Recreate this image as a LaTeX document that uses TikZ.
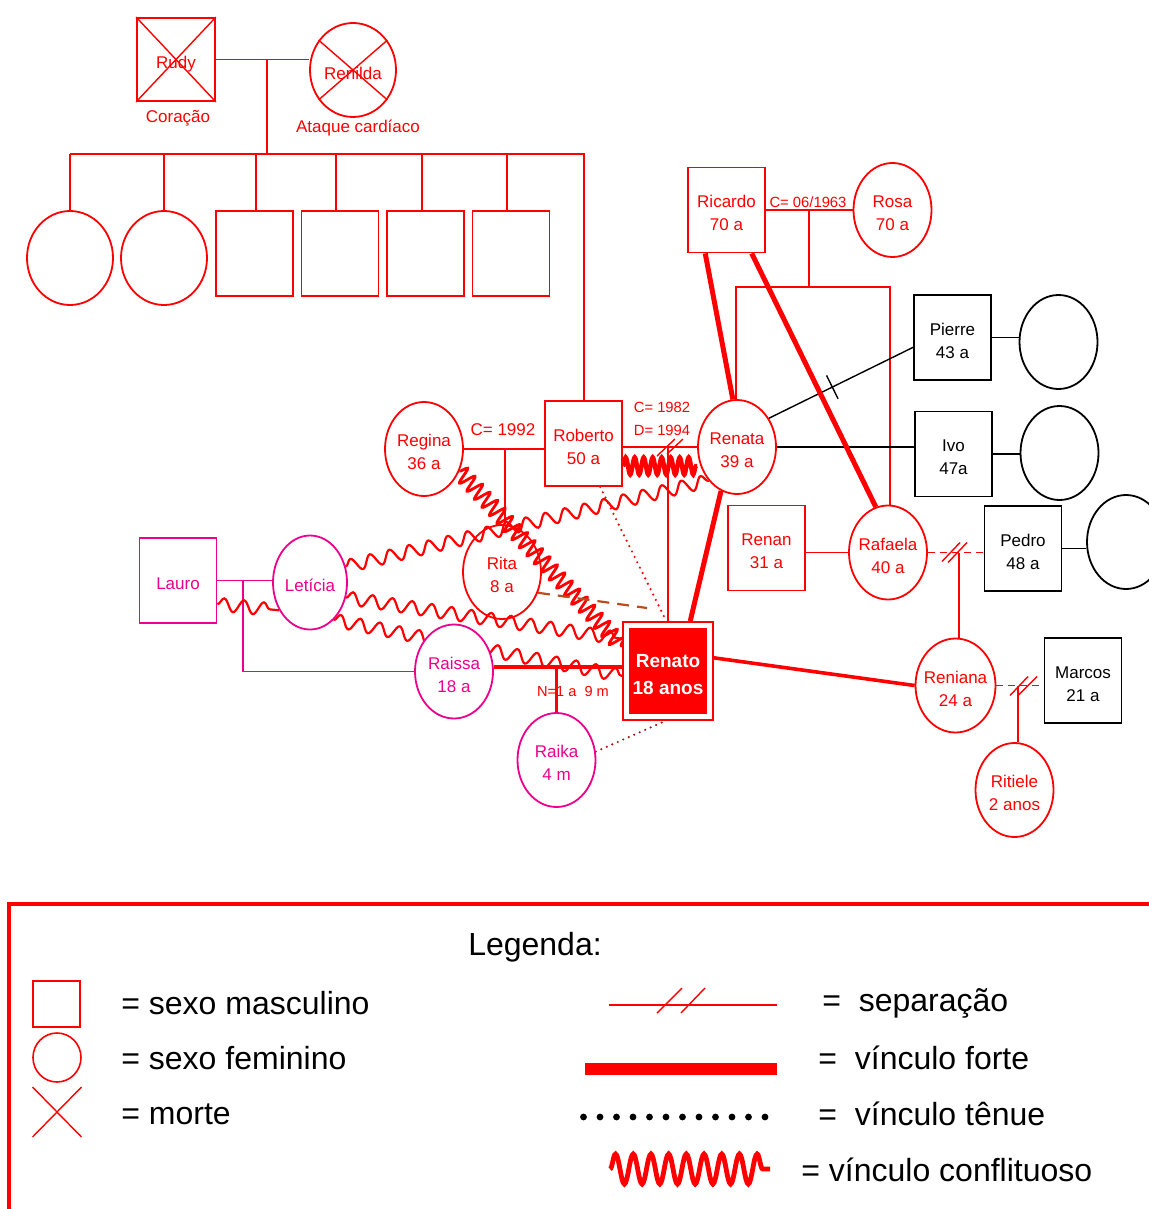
\documentclass[tikz,border=0pt]{standalone}
\usepackage{fontspec}
\setmainfont{Liberation Sans}
\usetikzlibrary{shapes.geometric,decorations.pathmorphing,decorations.markings,calc,backgrounds}
\definecolor{brownish}{RGB}{190,75,30}
\definecolor{dotdark}{RGB}{175,20,20}
\tikzset{
  base/.style={inner sep=0pt, align=center, font=\fontsize{8.5}{11.5}\selectfont, line width=0.9pt, text height=20.7pt, text depth=0pt},
  one/.style={text height=9.2pt, text depth=0pt},
  msq/.style={base, rectangle, draw=red, text=red, minimum width=38.5pt, minimum height=42.5pt, fill=white},
  fel/.style={base, ellipse, draw=red, text=red, inner xsep=-6pt, minimum width=39pt, minimum height=47pt, fill=white},
  bsq/.style={msq, draw=black, text=black},
  bel/.style={fel, draw=black},
  psq/.style={msq, draw=magenta, text=magenta},
  pel/.style={fel, draw=magenta, text=magenta},
  txt/.style={inner sep=0pt, text=red, font=\fontsize{8.5}{10}\selectfont},
  stxt/.style={inner sep=0pt, text=red, font=\fontsize{7.4}{9}\selectfont},
  lgd/.style={inner sep=0pt, text=black, font=\fontsize{16}{19}\selectfont},
  rline/.style={draw=red, line width=0.9pt},
  bline/.style={draw=black, line width=0.7pt},
  pline/.style={draw=magenta, line width=0.8pt},
  sepdash/.style={rline, dash pattern=on 3.5pt off 2.5pt},
  strong/.style={draw=red, line width=2.5pt},
  conflict/.style={draw=red, line width=1.1pt, decorate, decoration={snake, amplitude=3.2pt, segment length=10pt}},
  heavyconflict/.style={draw=red, line width=1.4pt, decorate, decoration={snake, amplitude=4pt, segment length=5.5pt}},
  rrconflict/.style={draw=red, line width=2.2pt, decorate, decoration={snake, amplitude=4.3pt, segment length=4.5pt}},
  dotline/.style={line width=1.2pt, line cap=round, dash pattern=on 0pt off 3pt},
  slash/.style={draw=red, line width=0.7pt}
}
\begin{document}
\begin{tikzpicture}[x=0.5pt,y=-0.5pt]
\useasboundingbox (0,0) rectangle (1148,1209);

% ---------- grandparents ----------
\node[msq, one, minimum width=39pt, minimum height=41.5pt] (rudy) at (176,59.5) {Rudy};
\node[fel, one, minimum width=43pt] (renilda) at (353,70) {Renilda};
\draw[red, line width=0.7pt] (rudy.north west) -- (rudy.south east) (rudy.north east) -- (rudy.south west);
\draw[red, line width=0.7pt] (renilda.139) -- (renilda.-41) (renilda.41) -- (renilda.-139);
\node[txt] (coracao) at (178,118) {Coração};
\node[txt] (ataque) at (358,128) {Ataque cardíaco};

% ---------- children of Rudy ----------
\node[fel, minimum width=43pt] (k1) at (70,258) {};
\node[fel, minimum width=43pt] (k2) at (164,258) {};
\node[msq] (k3) at (254.5,253.5) {};
\node[msq] (k4) at (340,253.5) {};
\node[msq] (k5) at (425.5,253.5) {};
\node[msq] (k6) at (511,253.5) {};

% ---------- family ----------
\node[msq] (roberto) at (583.5,443.5) {Roberto\\50 a};
\node[fel] (regina) at (424,449) {Regina\\36 a};
\node[fel, fill=none] (rita) at (502,572) {Rita\\8 a};
\node[fel] (renata) at (737,447) {Renata\\39 a};
\node[msq] (ricardo) at (726.5,210) {Ricardo\\70 a};
\node[fel] (rosa) at (892.5,210) {Rosa\\70 a};
\node[bsq] (pierre) at (952.5,337.5) {Pierre\\43 a};
\node[bel] (pierrew) at (1058.5,342) {};
\node[bsq] (ivo) at (953.5,454) {Ivo\\47a};
\node[bel] (ivow) at (1059.5,453) {};
\node[msq] (renan) at (766.5,548) {Renan\\31 a};
\node[fel] (rafaela) at (888,552.5) {Rafaela\\40 a};
\node[bsq] (pedro) at (1023,548.5) {Pedro\\48 a};
\node[bel] (pedrow) at (1126,542) {};
\node[fel, minimum width=40pt] (reniana) at (955.5,685.5) {Reniana\\24 a};
\node[bsq] (marcos) at (1083,680.5) {Marcos\\21 a};
\node[fel] (ritiele) at (1014.5,790) {Ritiele\\2 anos};
\node[psq, one] (lauro) at (178,580.5) {Lauro};
\node[pel, one, minimum width=37pt] (leticia) at (310,582.5) {Letícia};
\node[pel] (raissa) at (454,671.5) {Raissa\\18 a};
\node[pel] (raika) at (556.5,760) {Raika\\4 m};
\node[draw=red, line width=0.9pt, minimum width=45pt, minimum height=49pt, fill=white, inner sep=0pt] (renato) at (668,671) {};
\node[fill=red, minimum width=39pt, minimum height=43pt, inner sep=0pt, text=white, align=center,
      text height=23.3pt, text depth=0pt,
      font=\bfseries\fontsize{9.5}{13.5}\selectfont] (renatoin) at (668,671) {Renato\\18 anos};

% ---------- labels ----------
\node[txt] (c1992) at (503,430) {C= 1992};
\node[stxt] (c1982) at (662,407) {C= 1982};
\node[stxt] (d1994) at (662,430) {D= 1994};
\node[stxt] (c1963) at (808,202) {C= 06/1963};
\node[stxt, font=\fontsize{7.3}{9}\selectfont] (nasc) at (573,691) {N=1 a\ \ 9 m};

% ---------- coordinates ----------
\coordinate (gp) at (267,59);
\coordinate (barL) at (70,154);
\coordinate (barR) at (584,154);
\coordinate (bk1) at (70,154);
\coordinate (bk2) at (164,154);
\coordinate (bk3) at (256,154);
\coordinate (bk4) at (336,154);
\coordinate (bk5) at (422,154);
\coordinate (bk6) at (507,154);
\coordinate (mrr) at (505,449);
\coordinate (mrn) at (668,447);
\coordinate (mrs) at (809,210);
\coordinate (sibL) at (736,287);
\coordinate (sibR) at (890,287);
\coordinate (mrp) at (959,552.5);
\coordinate (mrm) at (1018,685.5);
\coordinate (mrk) at (556,667);
\coordinate (mll) at (243,580.5);
\coordinate (rnEnd) at (647,608);
\coordinate (zz) at ([yshift=-11.25pt]roberto.east);

\begin{scope}[on background layer]
  % grandparents and their children
  \draw[rline] (rudy.east) -- (rudy.east -| renilda.west);
  \draw[rline] (gp) -- (gp |- barL);
  \draw[rline] (barL) -- (barR) -- (barR |- roberto.north);
  \foreach \k in {1,...,6} { \draw[rline] (bk\k) -- (bk\k |- k\k.north); }

  % Roberto unions
  \draw[rline] (regina.east) -- (regina.east -| roberto.west);
  \draw[rline] (mrr) -- (mrr |- rita.north);
  \draw[rline] (renata.west) -- (renata.west -| roberto.east);
  \draw[slash] ([shift={(-11,9)}]mrn) -- ([shift={(7,-8)}]mrn);
  \draw[slash] ([shift={(-1,7)}]mrn) -- ([shift={(15,-8)}]mrn);
  \draw[rline] (mrn) -- (mrn |- renato.north);

  % Ricardo & Rosa
  \draw[rline] (rosa.west) -- (rosa.west -| ricardo.east);
  \draw[rline] (mrs) -- (mrs |- sibL);
  \draw[rline] (renata.north -| sibL) -- (sibL) -- (sibR) -- (sibR |- rafaela.north);

  % black partners
  \draw[bline, postaction={decorate, decoration={markings, mark=at position 0.44 with {\draw[black, line width=0.7pt] (0,-6.5pt) -- (0,6.5pt);}}}] (renata.42) -- (pierre.194);
  \draw[bline] (renata.east) -- (renata.east -| ivo.west);
  \draw[bline] (pierre.east) -- (pierre.east -| pierrew.west);
  \draw[bline] (ivo.east) -- (ivo.east -| ivow.west);
  \draw[bline] (pedro.east) -- (pedro.east -| pedrow.west);

  % Rafaela
  \draw[rline] (rafaela.west) -- (rafaela.west -| renan.east);
  \draw[sepdash] (rafaela.east) -- (rafaela.east -| pedro.west);
  \draw[slash] ([shift={(-17,9)}]mrp) -- ([shift={(1,-10)}]mrp);
  \draw[slash] ([shift={(-11,10)}]mrp) -- ([shift={(8,-10)}]mrp);
  \draw[rline] (mrp) -- (mrp |- reniana.north);

  % Reniana
  \draw[sepdash] (reniana.east) -- (reniana.east -| marcos.west);
  \draw[slash] ([shift={(-8,10)}]mrm) -- ([shift={(10,-9)}]mrm);
  \draw[slash] ([shift={(0,10)}]mrm) -- ([shift={(19,-9)}]mrm);
  \draw[rline] (mrm) -- (mrm |- ritiele.north);

  % Lauro / Leticia / Raissa
  \draw[pline] (lauro.east) -- (lauro.east -| leticia.west);
  \draw[pline] (mll) |- (raissa.west);

  % conflicts
  \draw[conflict] (lauro.-31) -- (leticia.222);
  \draw[conflict] (leticia.24) -- (renata.230);
  \draw[conflict] (leticia.-23) -- (renato.145);
  \draw[conflict] (leticia.-58) -- (renato.186);
  \draw[heavyconflict] (regina.-32) -- (renato.152);
  \draw[rrconflict] (zz) -- (zz -| renata.west);

  % strong links
  \draw[strong] ($(ricardo.south west)!0.23!(ricardo.south east)$) -- (renata.95);
  \draw[strong] ($(ricardo.south west)!0.82!(ricardo.south east)$) -- (rafaela.105);
  \draw[strong] (renata.-110) -- (renato.66);
  \draw[strong, line width=1.8pt] (renato.16) -- (reniana.west);
  \draw[strong, line width=2pt] (mrk -| raissa.east) -- (mrk -| renato.west);
  \draw[strong, line width=1.5pt] (mrk) -- (mrk |- raika.north);

  % weak links
  \draw[dotline, red] (roberto.-69) -- (renato.92);
  \draw[dotline, dotdark] (raika.12) -- (renato.-93);
  \draw[brownish, line width=1.1pt, dash pattern=on 6pt off 4pt] (rita.-30) -- (rnEnd);
\end{scope}

% ---------- legend ----------
\coordinate (lgR) at (1152,904);
\coordinate (lgC) at (9,904);
\coordinate (lgB) at (9,1213);
\draw[red, line width=1.6pt] (lgR) -- (lgC) -- (lgB);
\node[lgd] (legenda) at (535,947) {Legenda:};
\node[draw=red, line width=0.8pt, minimum width=23.5pt, minimum height=23pt, inner sep=0pt] (lsq) at (56.5,1004) {};
\node[ellipse, draw=red, line width=0.8pt, minimum width=24pt, minimum height=24.5pt, inner sep=0pt] (lci) at (57,1057.5) {};
\node[minimum width=24pt, minimum height=24.5pt, inner sep=0pt] (lx) at (57,1112) {};
\draw[red, line width=0.7pt] (lx.north west) -- (lx.south east) (lx.north east) -- (lx.south west);
\node[lgd, anchor=west] (t1) at (121,1003) {= sexo masculino};
\node[lgd, anchor=west] (t2) at (121,1058) {= sexo feminino};
\node[lgd, anchor=west] (t3) at (121,1114) {= morte};

\coordinate (sepA) at (609,1005);
\coordinate (sepB) at (777,1005);
\draw[red, line width=0.7pt] (sepA) -- (sepB);
\coordinate (sepM) at (680,1001);
\draw[slash] ([shift={(-23,12)}]sepM) -- ([shift={(2,-13)}]sepM);
\draw[slash] ([shift={(1,12)}]sepM) -- ([shift={(25,-13)}]sepM);
\node[lgd, anchor=west] (t4) at (822,1003) {=\ \ separação};

\coordinate (frA) at (585,1069);
\coordinate (frB) at (777,1069);
\draw[red, line width=6pt] (frA) -- (frB);
\node[lgd, anchor=west] (t5) at (818,1058) {=\ \ vínculo forte};

\coordinate (tnA) at (583.5,1117);
\coordinate (tnB) at (765,1117);
\draw[black, line width=3.4pt, line cap=round, dash pattern=on 0pt off 8.25pt] (tnA) -- (tnB);
\node[lgd, anchor=west] (t6) at (818,1114) {=\ \ vínculo tênue};

\coordinate (cfA) at (610,1169);
\coordinate (cfB) at (770,1169);
\draw[red, line width=2.4pt, decorate, decoration={snake, amplitude=7.5pt, segment length=8.85pt}] (cfA) -- (cfB);
\node[lgd, anchor=west] (t7) at (801,1170) {= vínculo conflituoso};
\end{tikzpicture}
\end{document}
